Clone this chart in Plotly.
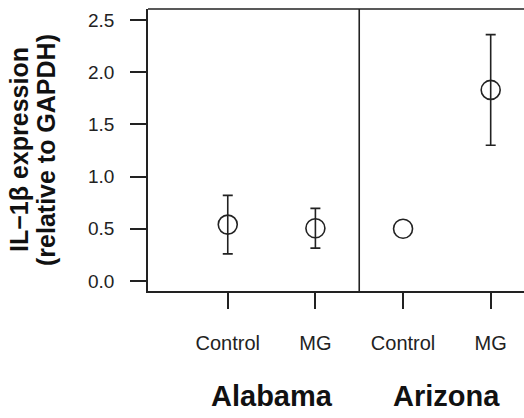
import plotly.graph_objects as go

groups = ["Alabama", "Alabama", "Arizona", "Arizona"]
treatments = ["Control", "MG", "Control", "MG"]
means = [0.54, 0.505, 0.50, 1.83]
errors = [0.28, 0.19, 0.0, 0.53]
y_ticks = [0.0, 0.5, 1.0, 1.5, 2.0, 2.5]
group_names = ["Alabama", "Arizona"]

xpos = list(range(1, len(means) + 1))
INK = "#222222"
FONT = "Liberation Sans, Arial, sans-serif"

marker = dict(symbol="circle-open", size=19, color=INK, line=dict(width=1.6, color=INK))
with_err = [i for i, e in enumerate(errors) if e > 0]
no_err = [i for i, e in enumerate(errors) if e <= 0]

fig = go.Figure()
fig.add_trace(go.Scatter(
    x=[xpos[i] for i in with_err], y=[means[i] for i in with_err], mode="markers",
    marker=marker,
    error_y=dict(type="data", array=[errors[i] for i in with_err], visible=True,
                 color=INK, thickness=1.6, width=5),
    showlegend=False,
))
fig.add_trace(go.Scatter(
    x=[xpos[i] for i in no_err], y=[means[i] for i in no_err], mode="markers",
    marker=marker, showlegend=False,
))

fig.update_layout(
    width=524, height=418,
    margin=dict(l=148, r=0, t=9, b=127),
    plot_bgcolor="white", paper_bgcolor="white",
    font=dict(family=FONT, color=INK),
)
fig.update_xaxes(
    range=[0.09, 4.38], tickvals=xpos, ticktext=treatments,
    ticks="outside", ticklen=16, tickwidth=1.5, tickcolor=INK,
    showline=True, linewidth=1.6, linecolor=INK, mirror=False,
    showgrid=False, zeroline=False, tickfont=dict(size=20, color=INK),
    ticklabelstandoff=17,
)
fig.update_yaxes(
    range=[-0.096, 2.605], tickvals=y_ticks, tickformat=".1f",
    ticks="outside", ticklen=16, tickwidth=1.5, tickcolor=INK,
    showline=True, linewidth=1.6, linecolor=INK,
    showgrid=False, zeroline=False, tickfont=dict(size=19, color=INK),
    ticklabelstandoff=12,
)
# top border
fig.add_shape(type="line", xref="paper", yref="paper", x0=0, x1=1, y0=1, y1=1,
              line=dict(color=INK, width=1.6))
# divider between groups
fig.add_shape(type="line", xref="x", yref="paper", x0=2.5, x1=2.5, y0=0, y1=1,
              line=dict(color=INK, width=1.6))

# group labels
for i, g in enumerate(group_names):
    fig.add_annotation(x=(xpos[2 * i] + xpos[2 * i + 1]) / 2, xref="x",
                       y=-(396 - 291) / 282, yref="paper",
                       text="<b>" + g + "</b>", showarrow=False,
                       font=dict(size=29, family=FONT, color="#111111"), yanchor="middle")

# y-axis title (two lines)
fig.add_annotation(x=-(148 - 19) / 376, xref="paper", y=0.5, yref="paper",
                   text="<b>IL\u22121\u03b2 expression</b>", textangle=-90, showarrow=False,
                   font=dict(size=25, family=FONT, color="#111111"), xanchor="center", yanchor="middle")
fig.add_annotation(x=-(148 - 46) / 376, xref="paper", y=0.5, yref="paper",
                   text="<b>(relative to GAPDH)</b>", textangle=-90, showarrow=False,
                   font=dict(size=25, family=FONT, color="#111111"), xanchor="center", yanchor="middle")

fig.write_html("out.html")
